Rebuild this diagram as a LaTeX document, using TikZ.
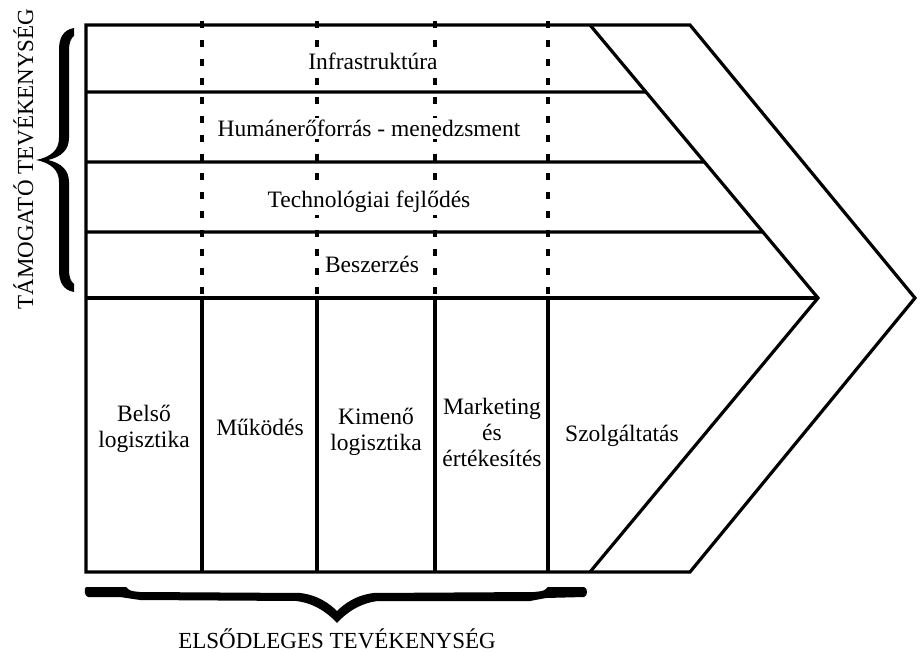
\documentclass[tikz,border=0pt]{standalone}
\usepackage{fontspec}
\setmainfont{Liberation Serif}
\usetikzlibrary{calc}
\begin{document}
\begin{tikzpicture}
        [x=1pt, y=-1pt,
        frame/.style={line width=3.2pt, black},
        divider/.style={line width=3.6pt, black, dash pattern=on 7pt off 12pt},
        label/.style={font=\fontsize{23.5}{26}\selectfont, align=center, inner sep=0pt, anchor=base},
        rowlabel/.style={label, fill=white, inner sep=2pt},
        caption/.style={font=\fontsize{23}{26}\selectfont, inner sep=0pt, anchor=base},
        bracket/.style={fill=black, draw=none}]

        \useasboundingbox (0,0) rectangle (922,652);

        % corners of the chevron
        \coordinate (tl) at (86,25);
        \coordinate (bl) at (86,572);
        \coordinate (itop) at (590,25);
        \coordinate (itip) at (818,298);
        \coordinate (ibot) at (590,572);
        \coordinate (otop) at (690,25);
        \coordinate (otip) at (915,298);
        \coordinate (obot) at (690,572);

        % dotted column dividers in the support part
        \foreach \x in {202,317,435,548}
            \draw[divider] (\x,21) -- (\x,298);

        % outline and inner edge
        \draw[frame] (bl) -- (tl) -- (otop) -- (otip) -- (obot) -- cycle;
        \draw[frame] (itop) -- (itip) -- (ibot);

        % support rows
        \draw[frame] (86,92) -- ($(itop)!0.2454!(itip)$);
        \draw[frame] (86,162) -- ($(itop)!0.5018!(itip)$);
        \draw[frame] (86,232) -- ($(itop)!0.7582!(itip)$);
        \draw[frame] (86,298) -- (itip);

        % primary columns
        \foreach \x in {202,317,435,548}
            \draw[frame] (\x,298) -- (\x,572);

        % labels of the support rows
        \node[rowlabel] (infra) at (373,70) {Infrastruktúra};
        \node[rowlabel] (human) at (369,137) {Humánerőforrás - menedzsment};
        \node[rowlabel] (tech) at (369,208) {Technológiai fejlődés};
        \node[rowlabel] (beszer) at (372,273) {Beszerzés};

        % labels of the primary columns (base = last line)
        \node[label] (belso) at (144,448) {Belső\\logisztika};
        \node[label] (mukod) at (260,436) {Működés};
        \node[label] (kimeno) at (376,451) {Kimenő\\logisztika};
        \node[label] (market) at (492,467) {Marketing\\és\\értékesítés};
        \node[label] (szolg) at (622,442) {Szolgáltatás};

        % left brace
        \path[bracket] (74,28) .. controls (63,30) and (59,38) .. (59,50) -- (59,138)
            .. controls (59,150) and (51,157) .. (36,160)
            .. controls (51,163) and (59,170) .. (59,182) -- (59,270)
            .. controls (59,282) and (63,290) .. (74,292) -- (74,284)
            .. controls (71,282) and (69,277) .. (69,270) -- (69,182)
            .. controls (69,170) and (61,163) .. (48,160)
            .. controls (61,157) and (69,150) .. (69,138) -- (69,50)
            .. controls (69,43) and (71,38) .. (74,36) -- cycle;

        % bottom brace
        \path[bracket] (86,587) -- (126,587) .. controls (130,591) .. (140,592) -- (300,593)
            .. controls (318,595) and (330,604) .. (337,611)
            .. controls (344,604) and (356,595) .. (374,593) -- (534,592)
            .. controls (544,591) .. (548,587) -- (584,587)
            .. controls (588,588) and (588,596) .. (584,597) -- (546,598)
            .. controls (538,600) .. (530,601) -- (378,601)
            .. controls (360,603) and (346,613) .. (337,623)
            .. controls (328,613) and (314,603) .. (296,601) -- (140,600)
            .. controls (130,599) .. (120,597) -- (88,597)
            .. controls (84,596) and (84,588) .. (86,587) -- cycle;

        % group names
        \node[caption, rotate=90] (tamogato) at (33,159) {TÁMOGATÓ TEVÉKENYSÉG};
        \node[caption] (elsodleges) at (337,648) {ELSŐDLEGES TEVÉKENYSÉG};

        \end{tikzpicture}
\end{document}
